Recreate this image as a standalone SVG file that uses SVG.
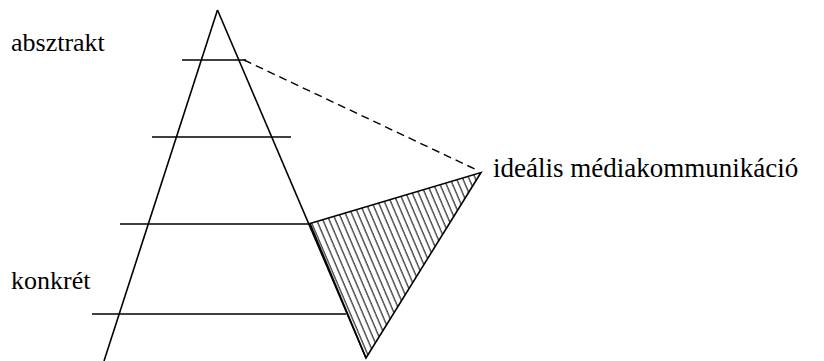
<svg xmlns="http://www.w3.org/2000/svg" width="824" height="361" viewBox="0 0 824 361">
<style>
.ln{stroke:#000;stroke-width:1.6;fill:none;stroke-linecap:butt}
.hz{stroke:#000;stroke-width:1.6;fill:url(#hatch)}
text{font-size:26px;fill:#000}
</style>
<defs>
<pattern id="hatch" patternUnits="userSpaceOnUse" width="6.3" height="20" patternTransform="translate(310,0) skewX(23.1)">
<line x1="1" y1="0" x2="1" y2="20" stroke="#000" stroke-width="1.1"/>
</pattern>
</defs>
<rect width="824" height="361" fill="#fff"/>
<g id="pyramid">
<line class="ln" x1="217.5" y1="10" x2="104" y2="361"/>
<line class="ln" x1="217.5" y1="10" x2="366" y2="358"/>
<line class="ln" x1="182" y1="60" x2="246" y2="60"/>
<line class="ln" x1="152" y1="137" x2="291" y2="137"/>
<line class="ln" x1="120" y1="224" x2="310" y2="224"/>
<line class="ln" x1="92" y1="314" x2="346" y2="314"/>
</g>
<g id="hatched-triangle">
<polygon class="hz" points="310,223.5 481,172.5 366,358"/>
</g>
<g id="connectors">
<line class="ln" x1="244" y1="60" x2="479" y2="171" stroke-dasharray="8,5" style="stroke-width:1.4"/>
</g>
<g id="label-absztrakt"><text style="font-family:'Liberation Serif'" x="11" y="51">absztrakt</text></g>
<g id="label-konkret"><text style="font-family:'Liberation Serif'" x="11" y="289">konkrét</text></g>
<g id="label-idealis"><text style="font-family:'Liberation Serif';font-size:27px" x="493" y="177">ideális médiakommunikáció</text></g>
</svg>
